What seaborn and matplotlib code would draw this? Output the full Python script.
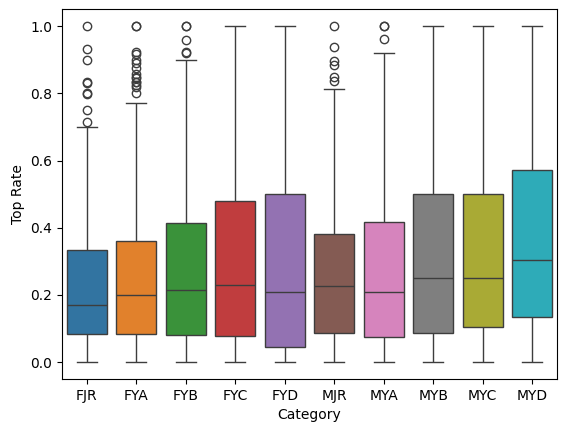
import pandas as pd
import matplotlib
matplotlib.use("Agg")
import matplotlib.pyplot as plt
import seaborn as sns

# Категории и статистики ящиков
categories = ["FJR", "FYA", "FYB", "FYC", "FYD", "MJR", "MYA", "MYB", "MYC", "MYD"]
lows = [0.0] * 10
q1s = [0.083, 0.083, 0.080, 0.078, 0.044, 0.087, 0.075, 0.088, 0.106, 0.134]
medians = [0.169, 0.200, 0.214, 0.231, 0.210, 0.228, 0.208, 0.250, 0.250, 0.303]
q3s = [0.333, 0.360, 0.415, 0.479, 0.500, 0.382, 0.416, 0.500, 0.500, 0.573]
highs = [0.700, 0.770, 0.900, 1.0, 1.0, 0.812, 0.920, 1.0, 1.0, 1.0]
outliers = {
    "FJR": [1.0, 0.933, 0.898, 0.833, 0.83, 0.8, 0.798, 0.75, 0.714],
    "FYA": [1.0, 1.0, 0.923, 0.917, 0.9, 0.889, 0.875, 0.857, 0.85,
            0.846, 0.833, 0.833, 0.824, 0.818, 0.8],
    "FYB": [1.0, 1.0, 0.96, 0.923, 0.92],
    "MJR": [1.0, 0.937, 0.897, 0.885, 0.85, 0.838],
    "MYA": [1.0, 1.0, 0.961],
}

# Сборка длинной таблицы: повторы дают нужные квартили
rows = []
k = 30
for i, cat in enumerate(categories):
    vals = [lows[i]] + [q1s[i]] * k + [medians[i]] * k + [q3s[i]] * k + [highs[i]]
    vals += outliers.get(cat, [])
    rows += [(cat, v) for v in vals]
df = pd.DataFrame(rows, columns=["Category", "Top Rate"])

fig = plt.figure(figsize=(5.67, 4.32), dpi=100)
ax = fig.add_axes([0.1093, 0.1227, 0.873, 0.8556])
sns.boxplot(data=df, x="Category", y="Top Rate", hue="Category", legend=False, ax=ax)
ax.set_yticks([0.0, 0.2, 0.4, 0.6, 0.8, 1.0])
fig.savefig("out.png", dpi=100)
